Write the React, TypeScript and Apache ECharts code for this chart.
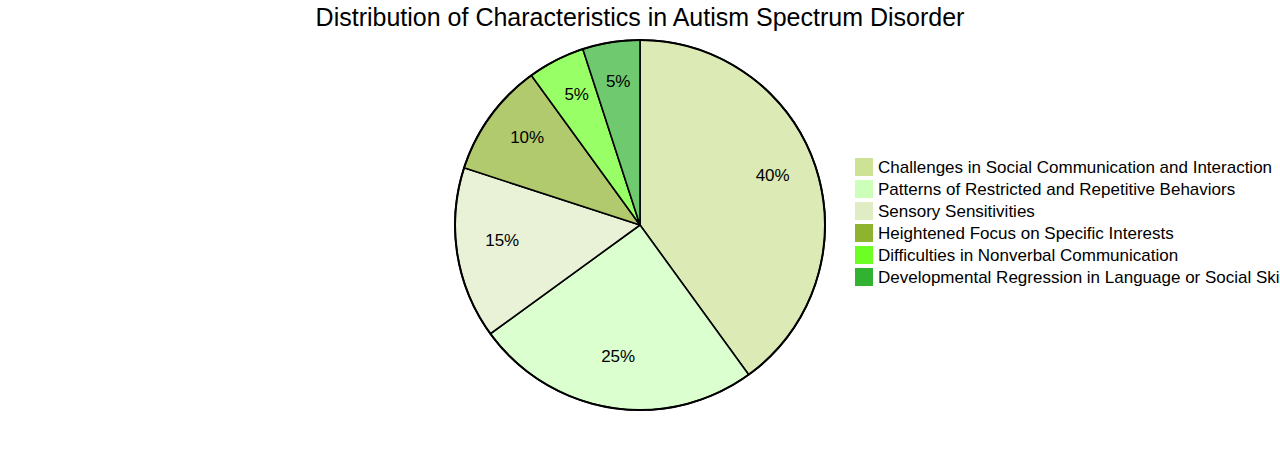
import React, { useEffect, useRef } from "react";
import * as echarts from "echarts";

const titleText = "Distribution of Characteristics in Autism Spectrum Disorder";
const categories = [
  "Challenges in Social Communication and Interaction",
  "Patterns of Restricted and Repetitive Behaviors",
  "Sensory Sensitivities",
  "Heightened Focus on Specific Interests",
  "Difficulties in Nonverbal Communication",
  "Developmental Regression in Language or Social Skills",
];
const values = [40, 25, 15, 10, 5, 5];
const legendColors = ["#cde295", "#ccffba", "#e0ecc4", "#8eb32e", "#6dff24", "#31b331"];
const sliceColors = ["#dcebb5", "#dbffcf", "#e9f2d6", "#b0ca6d", "#99ff66", "#6fca6f"];

export default function App() {
  const ref = useRef<HTMLDivElement>(null);
  useEffect(() => {
    if (!ref.current) return;
    const chart = echarts.init(ref.current, undefined, { renderer: "svg" });
    const total = values.reduce((a, b) => a + b, 0);
    const font = "'Liberation Sans', Arial, sans-serif";
    chart.setOption({
      animation: false,
      title: {
        text: titleText,
        left: "center",
        top: -1,
        textStyle: { fontFamily: font, fontSize: 25, fontWeight: "normal", color: "#000" },
      },
      legend: {
        orient: "vertical",
        left: 850,
        top: 153,
        itemWidth: 18,
        itemHeight: 18,
        itemGap: 4,
        icon: "rect",
        selectedMode: false,
        textStyle: { fontFamily: font, fontSize: 17, color: "#000" },
        data: categories.map((c, i) => ({
          name: c,
          itemStyle: { color: legendColors[i], borderWidth: 0, opacity: 1 },
        })),
      },
      series: [
        {
          type: "pie",
          center: [640, 225],
          radius: [0, 185],
          startAngle: 90,
          clockwise: true,
          silent: true,
          label: { show: false },
          labelLine: { show: false },
          itemStyle: { borderColor: "#000", borderWidth: 1.6 },
          data: categories.map((c, i) => ({
            name: c,
            value: values[i],
            itemStyle: { color: sliceColors[i] },
          })),
        },
        {
          type: "pie",
          center: [640, 225],
          radius: [184, 186],
          startAngle: 90,
          silent: true,
          label: { show: false },
          labelLine: { show: false },
          itemStyle: { color: "#000", borderWidth: 0 },
          data: [{ name: "__ring", value: 1 }],
        },
        {
          type: "pie",
          center: [640, 225],
          radius: [88, 185],
          startAngle: 90,
          clockwise: true,
          silent: true,
          itemStyle: { color: "rgba(0,0,0,0)", borderWidth: 0 },
          label: {
            show: true,
            position: "inside",
            fontFamily: font,
            fontSize: 17,
            lineHeight: 12,
            color: "#000",
            formatter: (p: any) => `${Math.round((p.value / total) * 100)}%\n `,
          },
          labelLine: { show: false },
          data: categories.map((c, i) => ({ name: c, value: values[i] })),
        },
      ],
    });
    return () => chart.dispose();
  }, []);
  return (
    <div
      ref={ref}
      style={{ position: "fixed", left: 0, top: 0, width: 1280, height: 450, background: "#fff" }}
    />
  );
}
